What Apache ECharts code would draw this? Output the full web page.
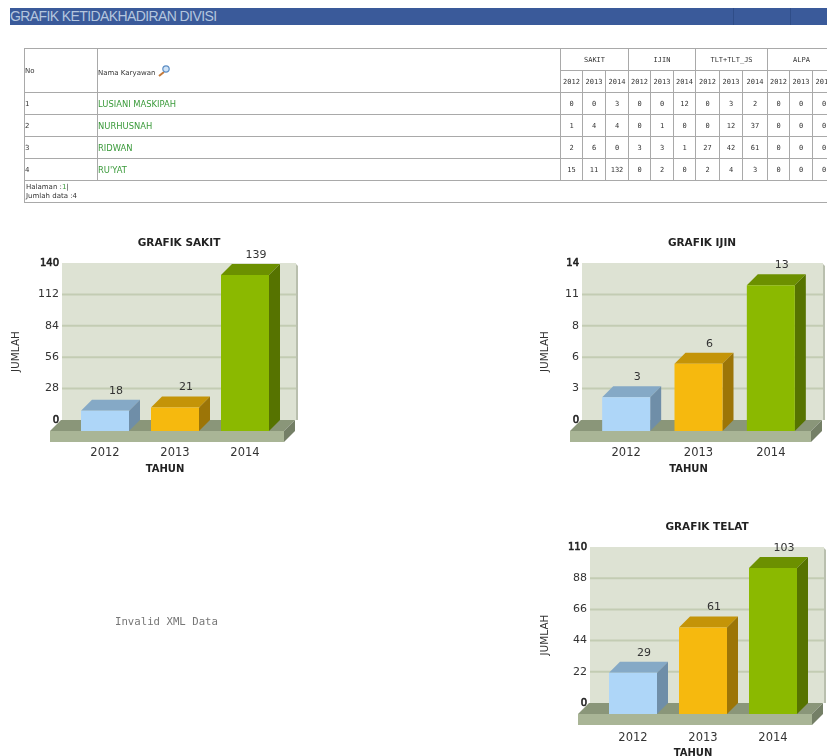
<!DOCTYPE html>
<html>
<head>
<meta charset="utf-8">
<title>Grafik Ketidakhadiran Divisi</title>
<script src="https://cdn.jsdelivr.net/npm/echarts@6/dist/echarts.min.js"></script>
<style>
  html, body { margin: 0; padding: 0; background: #fff; }
  #page { position: relative; width: 827px; height: 756px; overflow: hidden; filter: blur(0.45px); }
  #chart { position: absolute; left: 0; top: 0; width: 827px; height: 756px; }
  #banner { position: absolute; left: 10px; top: 8px; width: 817px; height: 17px; background: #3a5a9a;
    color: #b4c6de; font: 14px/16px "Liberation Sans", sans-serif; letter-spacing: -0.6px; }
  #banner i { position: absolute; top: 0; width: 1px; height: 17px; background: #2f4d88; }
  #tableBox { position: absolute; left: 24px; top: 48px; width: 803px; height: 160px; overflow: hidden; }
  table { border-collapse: collapse; table-layout: fixed; width: 811px; font: 7px "DejaVu Sans Mono", monospace; color: #333; }
  td { border: 1px solid #a9a9a9; padding: 0; height: 21px; text-align: center; overflow: hidden; white-space: nowrap; }
  td.left { text-align: left; font-family: "DejaVu Sans", sans-serif; }
  td.name { color: #3a9a3a; font-size: 8.4px; }
  td.foot { text-align: left; line-height: 9px; padding: 0 1px; height: 21px; font-family: "DejaVu Sans", sans-serif; }
  svg { vertical-align: -2px; }
</style>
</head>
<body>
<div id="page">
  <div id="chart"></div>
  <div id="banner">GRAFIK KETIDAKHADIRAN DIVISI<i style="left:723px"></i><i style="left:780px"></i></div>
  <div id="tableBox"></div>
</div>
<script>
// data
var years = ['2012', '2013', '2014'];
var sakitValues = [18, 21, 139];
var ijinValues = [3, 6, 13];
var telatValues = [29, 61, 103];
var sakitMax = 140;
var ijinMax = 14;
var telatMax = 110;

var groupNames = ['SAKIT', 'IJIN', 'TLT+TLT_JS', 'ALPA'];
var employeeNames = ['LUSIANI MASKIPAH', 'NURHUSNAH', 'RIDWAN', 'RU\'YAT'];
var employeeCounts = [
  [0, 0, 3, 0, 0, 12, 0, 3, 2, 0, 0, 0],
  [1, 4, 4, 0, 1, 0, 0, 12, 37, 0, 0, 0],
  [2, 6, 0, 3, 3, 1, 27, 42, 61, 0, 0, 0],
  [15, 11, 132, 0, 2, 0, 2, 4, 3, 0, 0, 0]
];
var yearColWidths = [22, 23, 23, 22, 23, 22, 24, 23, 25, 22, 23, 23];

// table
function buildTable () {
  var colgroup = '<col style="width:73px"><col style="width:463px">';
  yearColWidths.forEach(function (w) { colgroup += '<col style="width:' + w + 'px">'; });
  var icon = '<svg width="13" height="12" viewBox="0 0 13 12"><line x1="1" y1="11" x2="6" y2="7" stroke="#c47a3a" stroke-width="2"/>' +
    '<circle cx="8" cy="4" r="3.2" fill="#cfe3f7" stroke="#5f8fc4" stroke-width="1.2"/></svg>';
  var html = '<table><colgroup>' + colgroup + '</colgroup>';
  html += '<tr><td rowspan="2" class="left">No</td><td rowspan="2" class="left">Nama Karyawan ' + icon + '</td>';
  groupNames.forEach(function (g) { html += '<td colspan="3">' + g + '</td>'; });
  html += '</tr><tr>';
  groupNames.forEach(function () {
    years.forEach(function (y) { html += '<td>' + y + '</td>'; });
  });
  html += '</tr>';
  employeeNames.forEach(function (n, i) {
    html += '<tr><td class="left">' + (i + 1) + '</td><td class="left name">' + n + '</td>';
    employeeCounts[i].forEach(function (c) { html += '<td>' + c + '</td>'; });
    html += '</tr>';
  });
  html += '<tr><td colspan="14" class="foot">Halaman :<span style="color:#3a9a3a">1</span>|<br>Jumlah data :4</td></tr></table>';
  document.getElementById('tableBox').innerHTML = html;
}
buildTable();

// 3d look of the bars
var DEPTH = 11;
var barWidth = 48;
var barColors = [
  { front: '#aed6f8', top: '#85a9c6', side: '#6f8ea8' },
  { front: '#f6b90e', top: '#c49408', side: '#9c7507' },
  { front: '#8bb900', top: '#6c9000', side: '#567300' }
];

function poly (points, color) {
  return { type: 'polygon', shape: { points: points }, style: { fill: color } };
}

// back wall, gridlines and floor
function renderWall (params, api) {
  var cs = params.coordSys;
  var left = cs.x - 19;
  var right = cs.x + cs.width + 5;
  var bottom = cs.y + cs.height;
  var y = api.coord([0, api.value(0)])[1];
  var children = [];
  if (params.dataIndex === 0) {
    children.push(poly([[right, cs.y + 1], [right + 2, cs.y + 3], [right + 2, bottom], [right, bottom]], '#b9bfae'));
    children.push(poly([[left, cs.y], [right, cs.y], [right, bottom], [left, bottom]], '#dde2d3'));
  }
  if (y > cs.y + 1 && y < bottom - 1) {
    children.push({ type: 'line', shape: { x1: left, y1: y, x2: right, y2: y }, style: { stroke: '#c3ccb3', lineWidth: 2 } });
  }
  if (params.dataIndex === params.dataInsideLength - 1) {
    var fl = cs.x - 31;
    var fr = cs.x + cs.width - 7;
    children.push(poly([[fl, bottom + DEPTH], [fl + DEPTH, bottom], [fr + DEPTH, bottom], [fr, bottom + DEPTH]], '#8a9679'));
    children.push(poly([[fr, bottom + DEPTH], [fr + DEPTH, bottom], [fr + DEPTH, bottom + 11], [fr, bottom + DEPTH + 11]], '#747f66'));
    children.push(poly([[fl, bottom + DEPTH], [fr, bottom + DEPTH], [fr, bottom + DEPTH + 11], [fl, bottom + DEPTH + 11]], '#a9b596'));
  }
  return { type: 'group', children: children };
}

function renderBar (params, api) {
  var idx = api.value(0);
  var p = api.coord([idx, api.value(1)]);
  var base = api.coord([idx, 0]);
  var c = barColors[idx];
  var x0 = p[0] - DEPTH - barWidth / 2;
  var x1 = x0 + barWidth;
  var yTop = p[1] + DEPTH;
  var yBase = base[1] + DEPTH;
  return {
    type: 'group',
    children: [
      poly([[x0, yTop], [x0 + DEPTH, yTop - DEPTH], [x1 + DEPTH, yTop - DEPTH], [x1, yTop]], c.top),
      poly([[x1, yTop], [x1 + DEPTH, yTop - DEPTH], [x1 + DEPTH, yBase - DEPTH], [x1, yBase]], c.side),
      poly([[x0, yTop], [x1, yTop], [x1, yBase], [x0, yBase]], c.front),
      { type: 'text', style: { x: p[0], y: p[1] - 9, text: String(api.value(1)), align: 'center', verticalAlign: 'middle',
        fill: '#333', font: '11px "DejaVu Sans"' } }
    ]
  };
}

var panels = [
  { title: 'GRAFIK SAKIT', titleX: 179, titleY: 238, values: sakitValues, max: sakitMax, left: 81, width: 210, top: 263, bottom: 420, labelMargin: 27, xGap: 44, yGap: 40 },
  { title: 'GRAFIK IJIN', titleX: 702, titleY: 238, values: ijinValues, max: ijinMax, left: 601, width: 217, top: 263, bottom: 420, labelMargin: 27, xGap: 44, yGap: 31 },
  { title: 'GRAFIK TELAT', titleX: 707, titleY: 522, values: telatValues, max: telatMax, left: 609, width: 210, top: 547, bottom: 703, labelMargin: 29, xGap: 45, yGap: 39 }
];

var option = {
  animation: false,
  title: [],
  grid: [],
  xAxis: [],
  yAxis: [],
  series: [],
  graphic: [{
    type: 'text',
    left: 115,
    top: 617,
    style: { text: 'Invalid XML Data', fill: '#777', font: '10.7px "DejaVu Sans Mono"' }
  }]
};

panels.forEach(function (panel, i) {
  var step = panel.max / 5;
  var ticks = [];
  for (var t = 0; t <= 5; t++) {
    ticks.push(step * t);
  }
  option.title.push({
    text: panel.title,
    left: panel.titleX,
    top: panel.titleY,
    padding: 0,
    textAlign: 'center',
    textStyle: { fontFamily: 'DejaVu Sans', fontSize: 10.5, fontWeight: 'bold', color: '#222' }
  });
  option.grid.push({ left: panel.left, width: panel.width, top: panel.top, height: panel.bottom - panel.top, outerBoundsMode: 'none' });
  option.xAxis.push({
    type: 'category',
    gridIndex: i,
    data: years,
    axisLine: { show: false },
    axisTick: { show: false },
    axisLabel: { margin: panel.labelMargin, padding: [0, 22, 0, 0], color: '#333', fontFamily: 'DejaVu Sans', fontSize: 11.5 },
    name: 'TAHUN',
    nameLocation: 'middle',
    nameGap: panel.xGap,
    nameTextStyle: { fontFamily: 'DejaVu Sans', fontSize: 10, fontWeight: 'bold', color: '#222', padding: [0, 42, 0, 0] }
  });
  option.yAxis.push({
    type: 'value',
    gridIndex: i,
    min: 0,
    max: panel.max,
    interval: step,
    offset: 19,
    axisLine: { show: false },
    axisTick: { show: false },
    splitLine: { show: false },
    axisLabel: {
      margin: 3,
      color: '#333',
      fontFamily: 'DejaVu Sans',
      fontSize: 11,
      formatter: function (v) {
        var txt = String(Math.round(v));
        return (v === 0 || v === panel.max) ? '{b|' + txt + '}' : txt;
      },
      rich: { b: { fontFamily: 'DejaVu Sans', fontSize: 10, color: '#222', textBorderColor: '#222', textBorderWidth: 0.6 } }
    },
    name: 'JUMLAH',
    nameLocation: 'middle',
    nameGap: panel.yGap,
    nameTextStyle: { fontFamily: 'DejaVu Sans', fontSize: 10.5, color: '#333', padding: [0, 20, 0, 0] }
  });
  option.series.push({
    type: 'custom',
    xAxisIndex: i,
    yAxisIndex: i,
    z: 1,
    silent: true,
    renderItem: renderWall,
    encode: { y: 0 },
    data: ticks.map(function (v) { return [v]; })
  });
  option.series.push({
    type: 'custom',
    xAxisIndex: i,
    yAxisIndex: i,
    z: 2,
    renderItem: renderBar,
    encode: { x: 0, y: 1 },
    data: panel.values.map(function (v, k) { return [k, v]; })
  });
});

var chart = echarts.init(document.getElementById('chart'));
chart.setOption(option);
</script>
</body>
</html>
